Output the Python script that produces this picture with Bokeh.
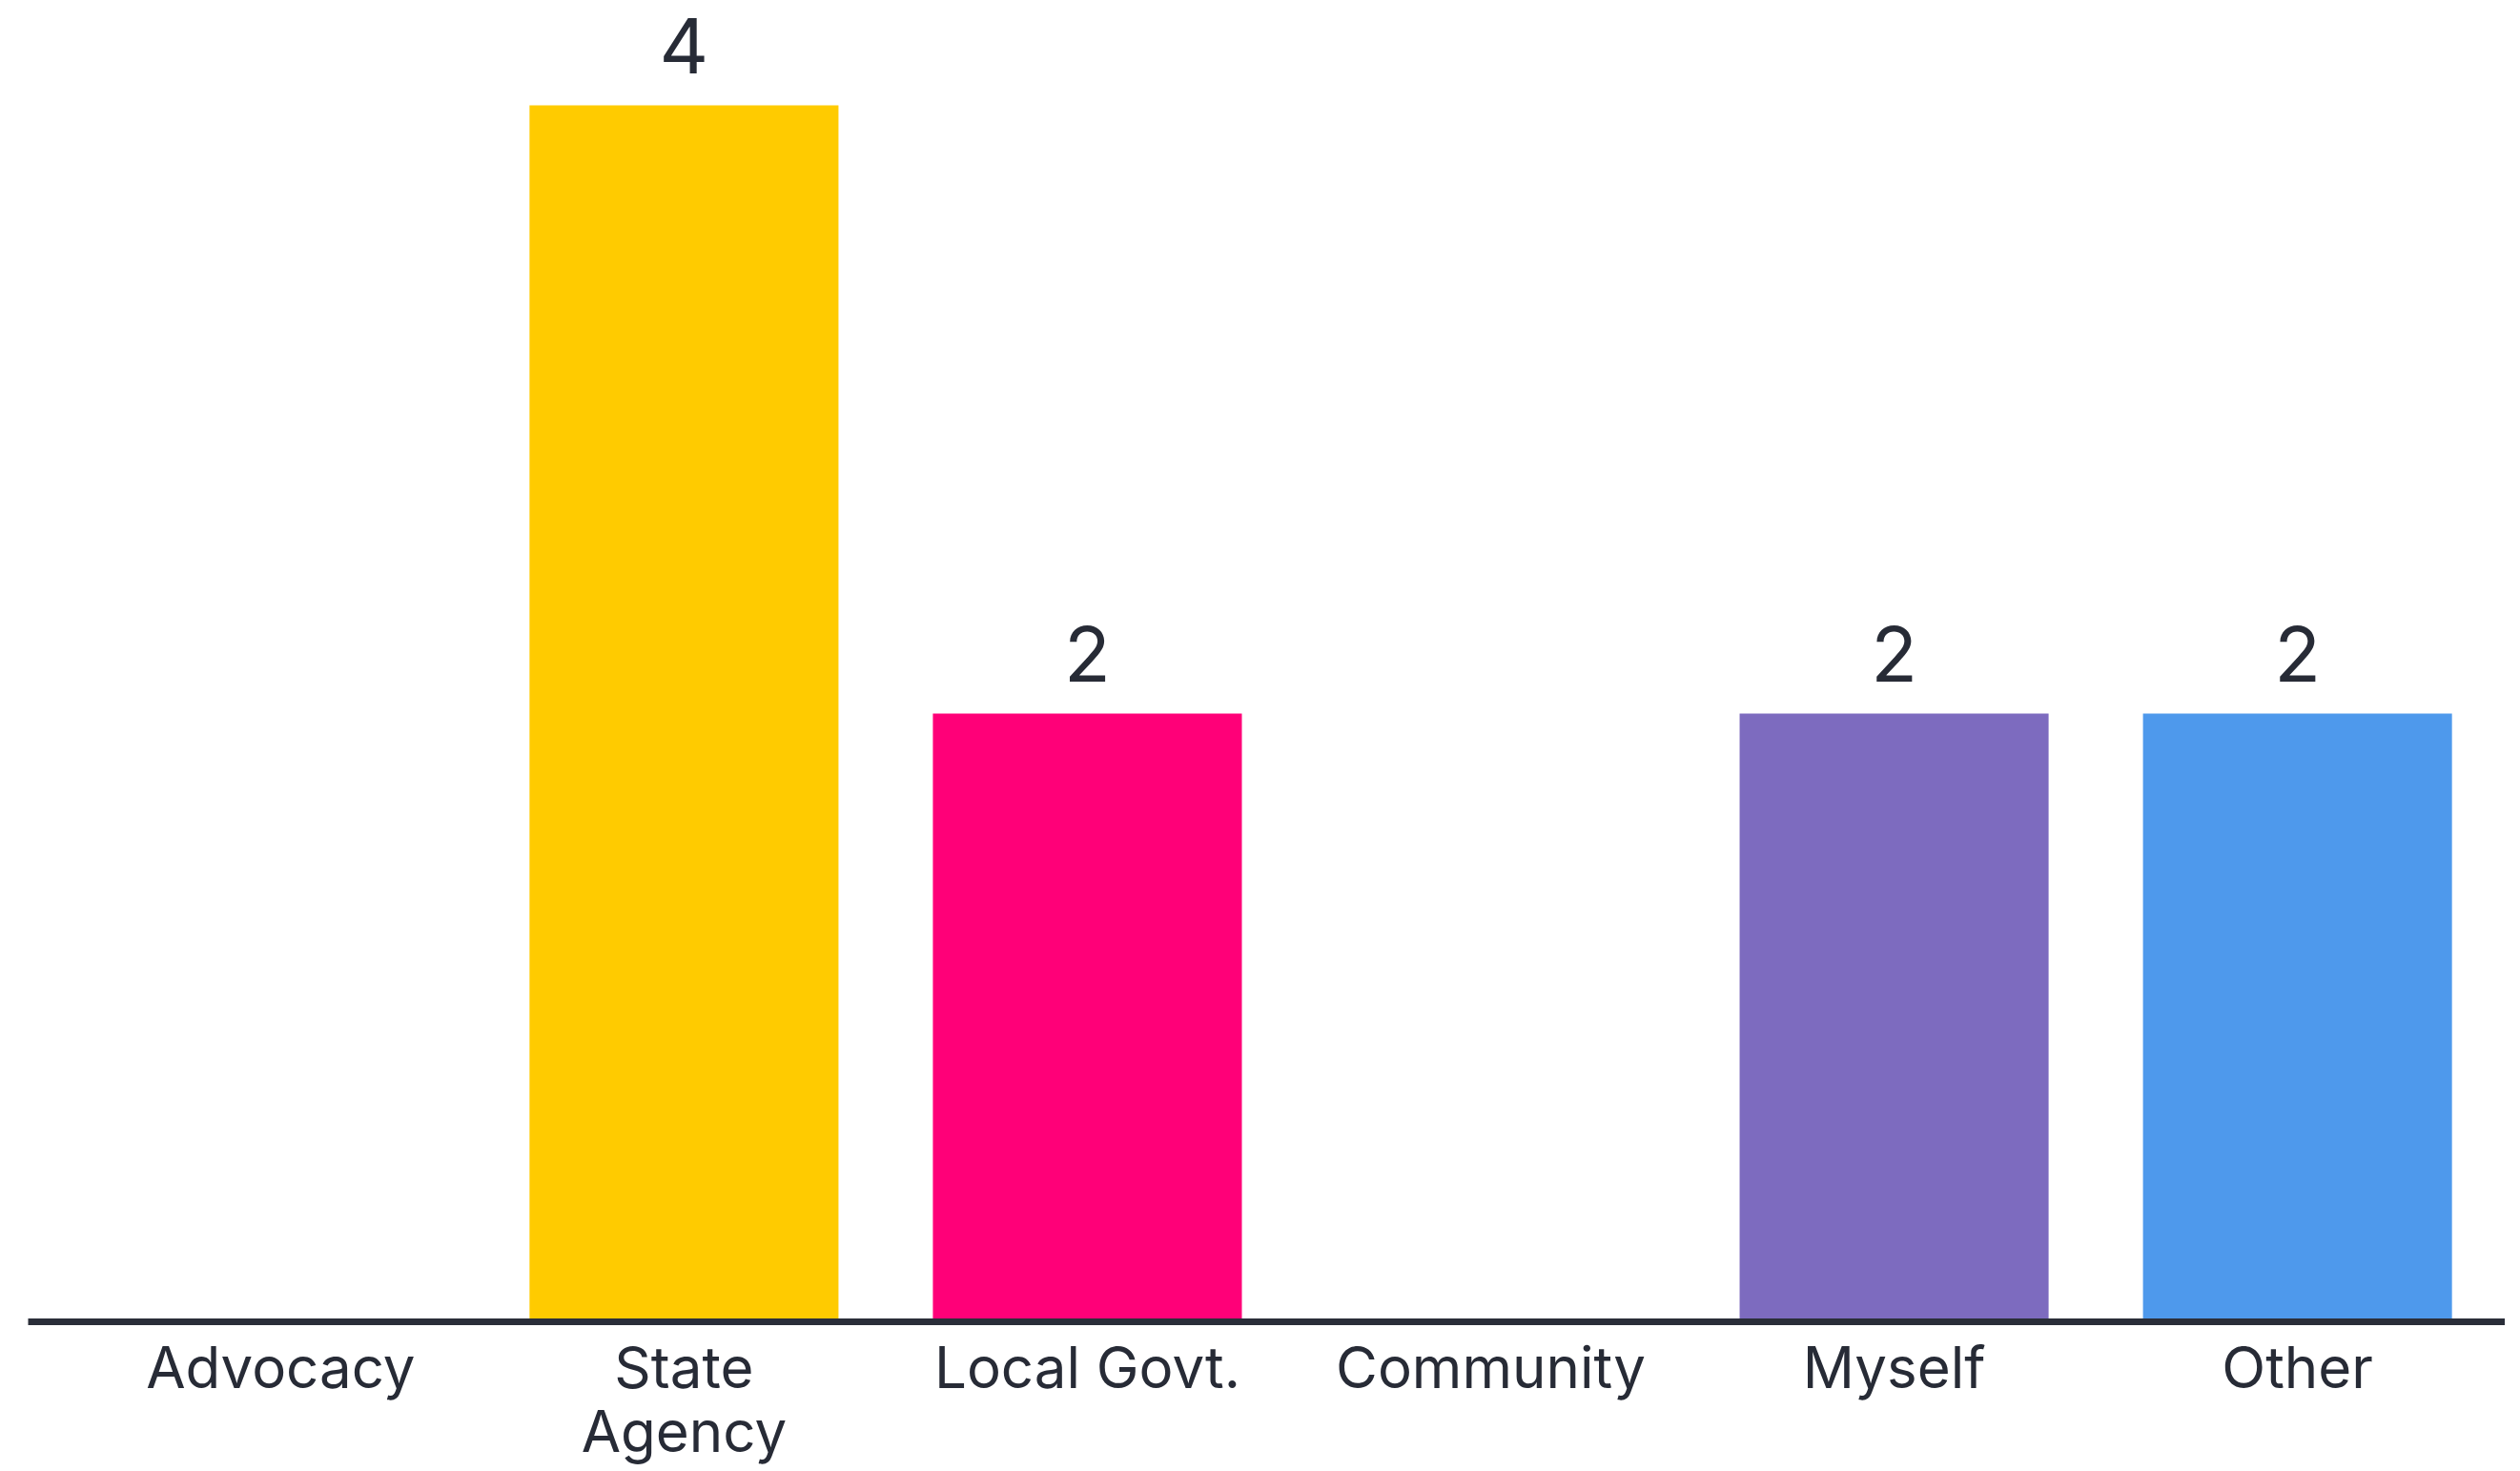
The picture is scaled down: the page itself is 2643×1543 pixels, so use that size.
from bokeh.plotting import figure
from bokeh.models import Range1d, FixedTicker, ColumnDataSource
from bokeh.core.properties import value
from bokeh.embed import file_html
from bokeh.resources import INLINE

categories = ["Advocacy", "State\nAgency", "Local Govt.", "Community", "Myself", "Other"]
counts = [0, 4, 2, 0, 2, 2]
colors = ["#FFCB00", "#FFCB00", "#FF0078", "#5A5A5A", "#7D6BBF", "#4E99EC"]

FONT = "Inter"
TEXT_COLOR = "#272B36"

xs = list(range(len(categories)))

p = figure(frame_width=2598, frame_height=1386, output_backend="svg", toolbar_location=None,
           x_range=Range1d(-0.626, 5.515), y_range=Range1d(0, 4.345),
           y_axis_location=None, min_border_left=29, min_border_right=0,
           min_border_top=0, min_border_bottom=150)
p.outline_line_color = None
p.grid.visible = False
p.background_fill_color = "white"
p.border_fill_color = "white"

src = ColumnDataSource(dict(x=xs, top=counts, color=colors))
p.vbar(x="x", top="top", width=0.766, bottom=0, color="color", line_color=None, source=src)

lab_x = [x for x, c in zip(xs, counts) if c > 0]
lab_y = [c for c in counts if c > 0]
lab_t = [str(c) for c in counts if c > 0]
p.text(x=lab_x, y=lab_y, text=lab_t, text_align="center", text_baseline="alphabetic",
       y_offset=-63, text_font=value(FONT), text_font_size="80px", text_color=TEXT_COLOR)

ax = p.xaxis[0]
ax.ticker = FixedTicker(ticks=xs)
ax.major_label_overrides = {i: c for i, c in zip(xs, categories)}
ax.major_label_text_font = FONT
ax.major_label_text_font_size = "60px"
ax.major_label_text_line_height = 0.94
ax.major_label_text_color = TEXT_COLOR
ax.major_label_standoff = 5
ax.major_tick_line_color = None
ax.minor_tick_line_color = None
ax.axis_line_color = "#2A2E39"
ax.axis_line_width = 7

open("out.html", "w").write(file_html(p, INLINE))
